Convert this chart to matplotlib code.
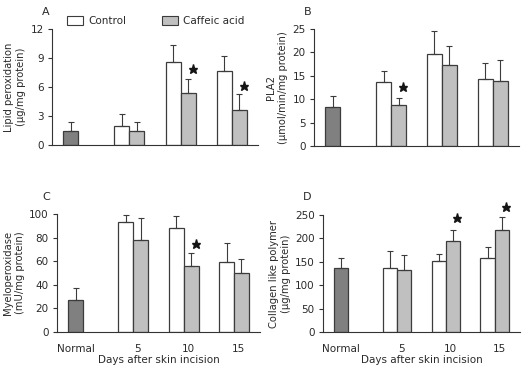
import numpy as np
import matplotlib
matplotlib.use("Agg")
import matplotlib.pyplot as plt
import matplotlib.patches as mpatches

plt.rcParams['font.family'] = ['DejaVu Sans']
plt.rcParams['font.size'] = 7.5

# --- data ---
days = ["5", "10", "15"]
x_labels = ["Normal", "5", "10", "15"]

lipid_normal, lipid_normal_err = 1.45, 0.97
lipid_ctrl = [1.97, 8.58, 7.68]
lipid_ctrl_err = [1.21, 1.72, 1.49]
lipid_caf = [1.45, 5.40, 3.60]
lipid_caf_err = [0.97, 1.38, 1.66]
lipid_star = [None, 7.85, 6.1]

pla_normal, pla_normal_err = 8.43, 2.27
pla_ctrl = [13.6, 19.6, 14.4]
pla_ctrl_err = [2.4, 5.0, 3.3]
pla_caf = [8.7, 17.4, 13.9]
pla_caf_err = [1.66, 3.9, 4.4]
pla_star = [12.7, None, None]

mpo_normal, mpo_normal_err = 26.9, 10.5
mpo_ctrl = [92.9, 87.8, 58.9]
mpo_ctrl_err = [6.5, 10.5, 16.5]
mpo_caf = [77.9, 56.1, 50.4]
mpo_caf_err = [18.7, 10.8, 11.6]
mpo_star = [None, 74.5, None]

col_normal, col_normal_err = 137.4, 20.6
col_ctrl = [136.0, 152.3, 157.2]
col_ctrl_err = [36.8, 14.7, 23.8]
col_caf = [133.0, 194.8, 218.8]
col_caf_err = [32.0, 23.2, 27.7]
col_star = [None, 244.0, 267.0]

C_NORMAL = "#808080"
C_CAF = "#c0c0c0"
C_EDGE = "#3c3c3c"
C_TXT = "#2a2a2a"

x_normal = 0.0
x_days = np.array([3.9, 7.3, 10.7])
W = 1.0

W_PX, H_PX = 524, 368


def add_ax(fig, left, right, bottom, top):
    return fig.add_axes([left / W_PX, 1 - bottom / H_PX,
                         (right - left) / W_PX, (bottom - top) / H_PX])


def draw_panel(ax, normal, normal_err, ctrl, ctrl_err, caf, caf_err, stars,
               ymax, yticks, ylabel, show_x):
    ekw = dict(ecolor=C_EDGE, elinewidth=0.8, capsize=2.5, capthick=0.8)
    ax.bar([x_normal], [normal], W, color=C_NORMAL, edgecolor=C_EDGE, lw=0.9,
           yerr=[[0], [normal_err]], error_kw=ekw, zorder=2)
    ax.bar(x_days - W / 2, ctrl, W, color="white", edgecolor=C_EDGE, lw=0.9,
           yerr=[np.zeros(3), ctrl_err], error_kw=ekw, zorder=2)
    ax.bar(x_days + W / 2, caf, W, color=C_CAF, edgecolor=C_EDGE, lw=0.9,
           yerr=[np.zeros(3), caf_err], error_kw=ekw, zorder=2)
    for xd, s in zip(x_days, stars):
        if s is not None:
            ax.plot([xd + W / 2 + 0.3], [s], marker="*", ms=6.5, color="#151515",
                    clip_on=False, zorder=3)
    ax.set_xlim(-1.25, 12.45)
    ax.set_ylim(0, ymax)
    ax.set_yticks(yticks)
    ax.spines["top"].set_visible(False)
    ax.spines["right"].set_visible(False)
    for sp in ("left", "bottom"):
        ax.spines[sp].set_color("#333333")
        ax.spines[sp].set_linewidth(0.8)
    ax.tick_params(axis="y", length=3, width=0.8, colors="#333333",
                   labelcolor=C_TXT, labelsize=7.5, pad=3)
    ax.set_ylabel(ylabel, color=C_TXT, fontsize=7.2, linespacing=1.25, labelpad=3)
    if show_x:
        ax.set_xticks([x_normal] + list(x_days + 0.3))
        ax.set_xticklabels(x_labels, color=C_TXT, fontsize=7.5)
        ax.tick_params(axis="x", length=0, pad=9)
        ax.set_xlabel("Days after skin incision", color=C_TXT, fontsize=7.5,
                      labelpad=0.5)
    else:
        ax.set_xticks([])


fig = plt.figure(figsize=(5.24, 3.68), dpi=100)

axA = add_ax(fig, 52, 258, 145, 29)
draw_panel(axA, lipid_normal, lipid_normal_err, lipid_ctrl, lipid_ctrl_err,
           lipid_caf, lipid_caf_err, lipid_star, 12, [0, 3, 6, 9, 12],
           "Lipid peroxidation\n(μg/mg protein)", False)

axB = add_ax(fig, 314, 519, 146, 29)
draw_panel(axB, pla_normal, pla_normal_err, pla_ctrl, pla_ctrl_err,
           pla_caf, pla_caf_err, pla_star, 25, [0, 5, 10, 15, 20, 25],
           "PLA2\n(μmol/min/mg protein)", False)

axC = add_ax(fig, 57, 260, 332, 214)
draw_panel(axC, mpo_normal, mpo_normal_err, mpo_ctrl, mpo_ctrl_err,
           mpo_caf, mpo_caf_err, mpo_star, 100, [0, 20, 40, 60, 80, 100],
           "Myeloperoxidase\n(mU/mg protein)", True)

axD = add_ax(fig, 323, 520, 332, 215)
draw_panel(axD, col_normal, col_normal_err, col_ctrl, col_ctrl_err,
           col_caf, col_caf_err, col_star, 250, [0, 50, 100, 150, 200, 250],
           "Collagen like polymer\n(μg/mg protein)", True)

# panel letters
for letter, px, py in [("A", 46, 12), ("B", 308, 12), ("C", 46, 197), ("D", 307, 197)]:
    fig.text(px / W_PX, 1 - py / H_PX, letter, ha="center", va="center",
             fontsize=8, color=C_TXT)

handles = [mpatches.Patch(facecolor="white", edgecolor=C_EDGE, lw=0.8, label="Control"),
           mpatches.Patch(facecolor=C_CAF, edgecolor=C_EDGE, lw=0.8, label="Caffeic acid")]
fig.legend(handles=handles, loc="center left", bbox_to_anchor=(58 / W_PX, 1 - 21 / H_PX),
           ncol=2, frameon=False, handlelength=1.5, handleheight=0.9,
           columnspacing=3.4, handletextpad=0.55, fontsize=7.5, labelcolor=C_TXT)

fig.savefig("out.png", dpi=100)
